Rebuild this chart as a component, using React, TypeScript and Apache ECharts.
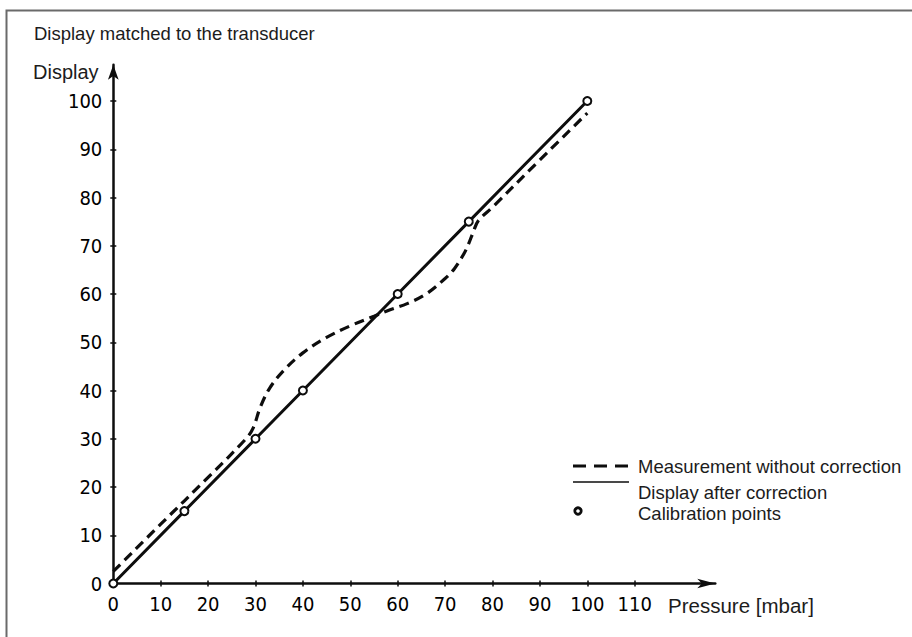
import React, { useEffect, useRef } from "react";
import * as echarts from "echarts";

// ---- data ----
const xTickValues = [0, 10, 20, 30, 40, 50, 60, 70, 80, 90, 100, 110];
const yTickValues = [0, 10, 20, 30, 40, 50, 60, 70, 80, 90, 100];

// calibration points (display after correction passes through them)
const calibPressure = [0, 15, 30, 40, 60, 75, 100];
const calibDisplay = [0, 15, 30, 40, 60, 75, 100];

// measurement without correction (dashed curve)
const measPressure = [0, 10, 20, 28, 29.5, 31, 33, 36, 40, 45, 50, 55, 58, 62, 66, 70, 72, 74, 75, 76, 77, 80, 90, 100];
const measDisplay = [2.5, 12.3, 22, 30, 32.2, 36.5, 40.5, 44.2, 47.8, 51, 53.4, 55.4, 56.6, 58, 60, 63.2, 65.3, 68.4, 70.5, 73, 75.2, 78, 87.8, 97.5];

const titleText = "Display matched to the transducer";
const yName = "Display";
const xName = "Pressure [mbar]";
const legendTexts = ["Measurement without correction", "Display after correction", "Calibration points"];

const INK = "#0d0d0d";
const TXT = "#1c1c1c";
const SANS = "'Liberation Sans', Arial, Helvetica, sans-serif";
const DIGITS = "'DejaVu Sans Condensed', 'Liberation Sans Narrow', 'Liberation Sans', sans-serif";

export default function App() {
  const ref = useRef<HTMLDivElement>(null);

  useEffect(() => {
    if (!ref.current) return;
    const chart = echarts.init(ref.current, undefined, { renderer: "svg" });

    const measData = measPressure.map((x, i) => [x, measDisplay[i]]);
    const calibData = calibPressure.map((x, i) => [x, calibDisplay[i]]);

    const xMax = 127;
    const yMax = 107.5;
    const gridLeft = 113.3;
    const xUnit = 4.74;
    const yUnit = 4.825;
    const gridBottom = 53.5;
    const gridWidth = xMax * xUnit;
    const gridHeight = yMax * yUnit;

    const baseX = {
      type: "value",
      min: 0,
      max: xMax,
      splitLine: { show: false },
    };
    const baseY = {
      type: "value",
      min: 0,
      max: yMax,
      splitLine: { show: false },
    };

    chart.setOption({
      animation: false,
      backgroundColor: "#fff",
      grid: {
        left: gridLeft,
        width: gridWidth,
        bottom: gridBottom,
        height: gridHeight,
        containLabel: false,
        outerBoundsMode: "none",
      },
      xAxis: [
        {
          ...baseX,
          position: "bottom",
          axisLine: {
            show: true,
            symbol: ["none", "arrow"],
            symbolSize: [7, 18],
            lineStyle: { color: INK, width: 2.5 },
          },
          axisTick: {
            show: true,
            inside: false,
            length: 3,
            customValues: xTickValues,
            lineStyle: { color: INK, width: 1.5 },
          },
          axisLabel: {
            show: true,
            customValues: xTickValues,
            margin: 10,
            color: "#000",
            fontSize: 20,
            fontFamily: DIGITS,
          },
        },
        {
          ...baseX,
          position: "bottom",
          axisLine: { show: false },
          axisTick: {
            show: true,
            inside: true,
            length: 3,
            customValues: xTickValues,
            lineStyle: { color: INK, width: 1.5 },
          },
          axisLabel: { show: false },
        },
      ],
      yAxis: [
        {
          ...baseY,
          position: "left",
          axisLine: {
            show: true,
            symbol: ["none", "arrow"],
            symbolSize: [8, 15],
            lineStyle: { color: INK, width: 2.5 },
          },
          axisTick: {
            show: true,
            inside: false,
            length: 3,
            customValues: yTickValues,
            lineStyle: { color: INK, width: 1.5 },
          },
          axisLabel: {
            show: true,
            customValues: yTickValues,
            margin: 11,
            color: "#000",
            fontSize: 20,
            fontFamily: DIGITS,
          },
        },
        {
          ...baseY,
          position: "left",
          axisLine: { show: false },
          axisTick: {
            show: true,
            inside: true,
            length: 3,
            customValues: yTickValues,
            lineStyle: { color: INK, width: 1.5 },
          },
          axisLabel: { show: false },
        },
      ],
      series: [
        {
          name: legendTexts[0],
          type: "line",
          data: measData,
          smooth: 0.35,
          showSymbol: false,
          symbol: "none",
          lineStyle: { color: INK, width: 3.2, type: [10, 6] },
          z: 3,
        },
        {
          name: legendTexts[1],
          type: "line",
          data: calibData,
          showSymbol: false,
          symbol: "none",
          lineStyle: { color: INK, width: 3 },
          z: 4,
        },
        {
          name: legendTexts[2],
          type: "scatter",
          data: calibData,
          symbol: "circle",
          symbolSize: 8,
          itemStyle: { color: "#fff", borderColor: INK, borderWidth: 2, opacity: 1 },
          z: 5,
        },
      ],
      graphic: [
        {
          type: "rect",
          shape: { x: 6.5, y: 10.5, width: 1000, height: 800 },
          style: { fill: "none", stroke: "#6a6a6a", lineWidth: 2 },
          silent: true,
        },
        {
          type: "text",
          x: 34,
          y: 33,
          style: { text: titleText, fill: TXT, font: `18.5px ${SANS}`, verticalAlign: "middle" },
        },
        {
          type: "text",
          x: 33,
          y: 72,
          style: { text: yName, fill: TXT, font: `20px ${SANS}`, verticalAlign: "middle" },
        },
        {
          type: "text",
          x: 668,
          y: 605,
          style: { text: xName, fill: TXT, font: `20.5px ${SANS}`, verticalAlign: "middle" },
        },
        // legend
        {
          type: "line",
          shape: { x1: 573, y1: 466, x2: 629, y2: 466 },
          style: { stroke: INK, lineWidth: 3, lineDash: [13, 8] },
        },
        {
          type: "line",
          shape: { x1: 573, y1: 482, x2: 629, y2: 482 },
          style: { stroke: INK, lineWidth: 1.5 },
        },
        {
          type: "circle",
          shape: { cx: 578, cy: 511, r: 3.2 },
          style: { fill: "#fff", stroke: INK, lineWidth: 2.8 },
        },
        {
          type: "text",
          x: 638,
          y: 466,
          style: { text: legendTexts[0], fill: TXT, font: `18.5px ${SANS}`, verticalAlign: "middle" },
        },
        {
          type: "text",
          x: 638,
          y: 492,
          style: { text: legendTexts[1], fill: TXT, font: `18.5px ${SANS}`, verticalAlign: "middle" },
        },
        {
          type: "text",
          x: 638,
          y: 513,
          style: { text: legendTexts[2], fill: TXT, font: `18.5px ${SANS}`, verticalAlign: "middle" },
        },
      ],
    });

    return () => chart.dispose();
  }, []);

  return (
    <div
      ref={ref}
      style={{ position: "fixed", left: 0, top: 0, width: 912, height: 637, background: "#fff" }}
    />
  );
}
